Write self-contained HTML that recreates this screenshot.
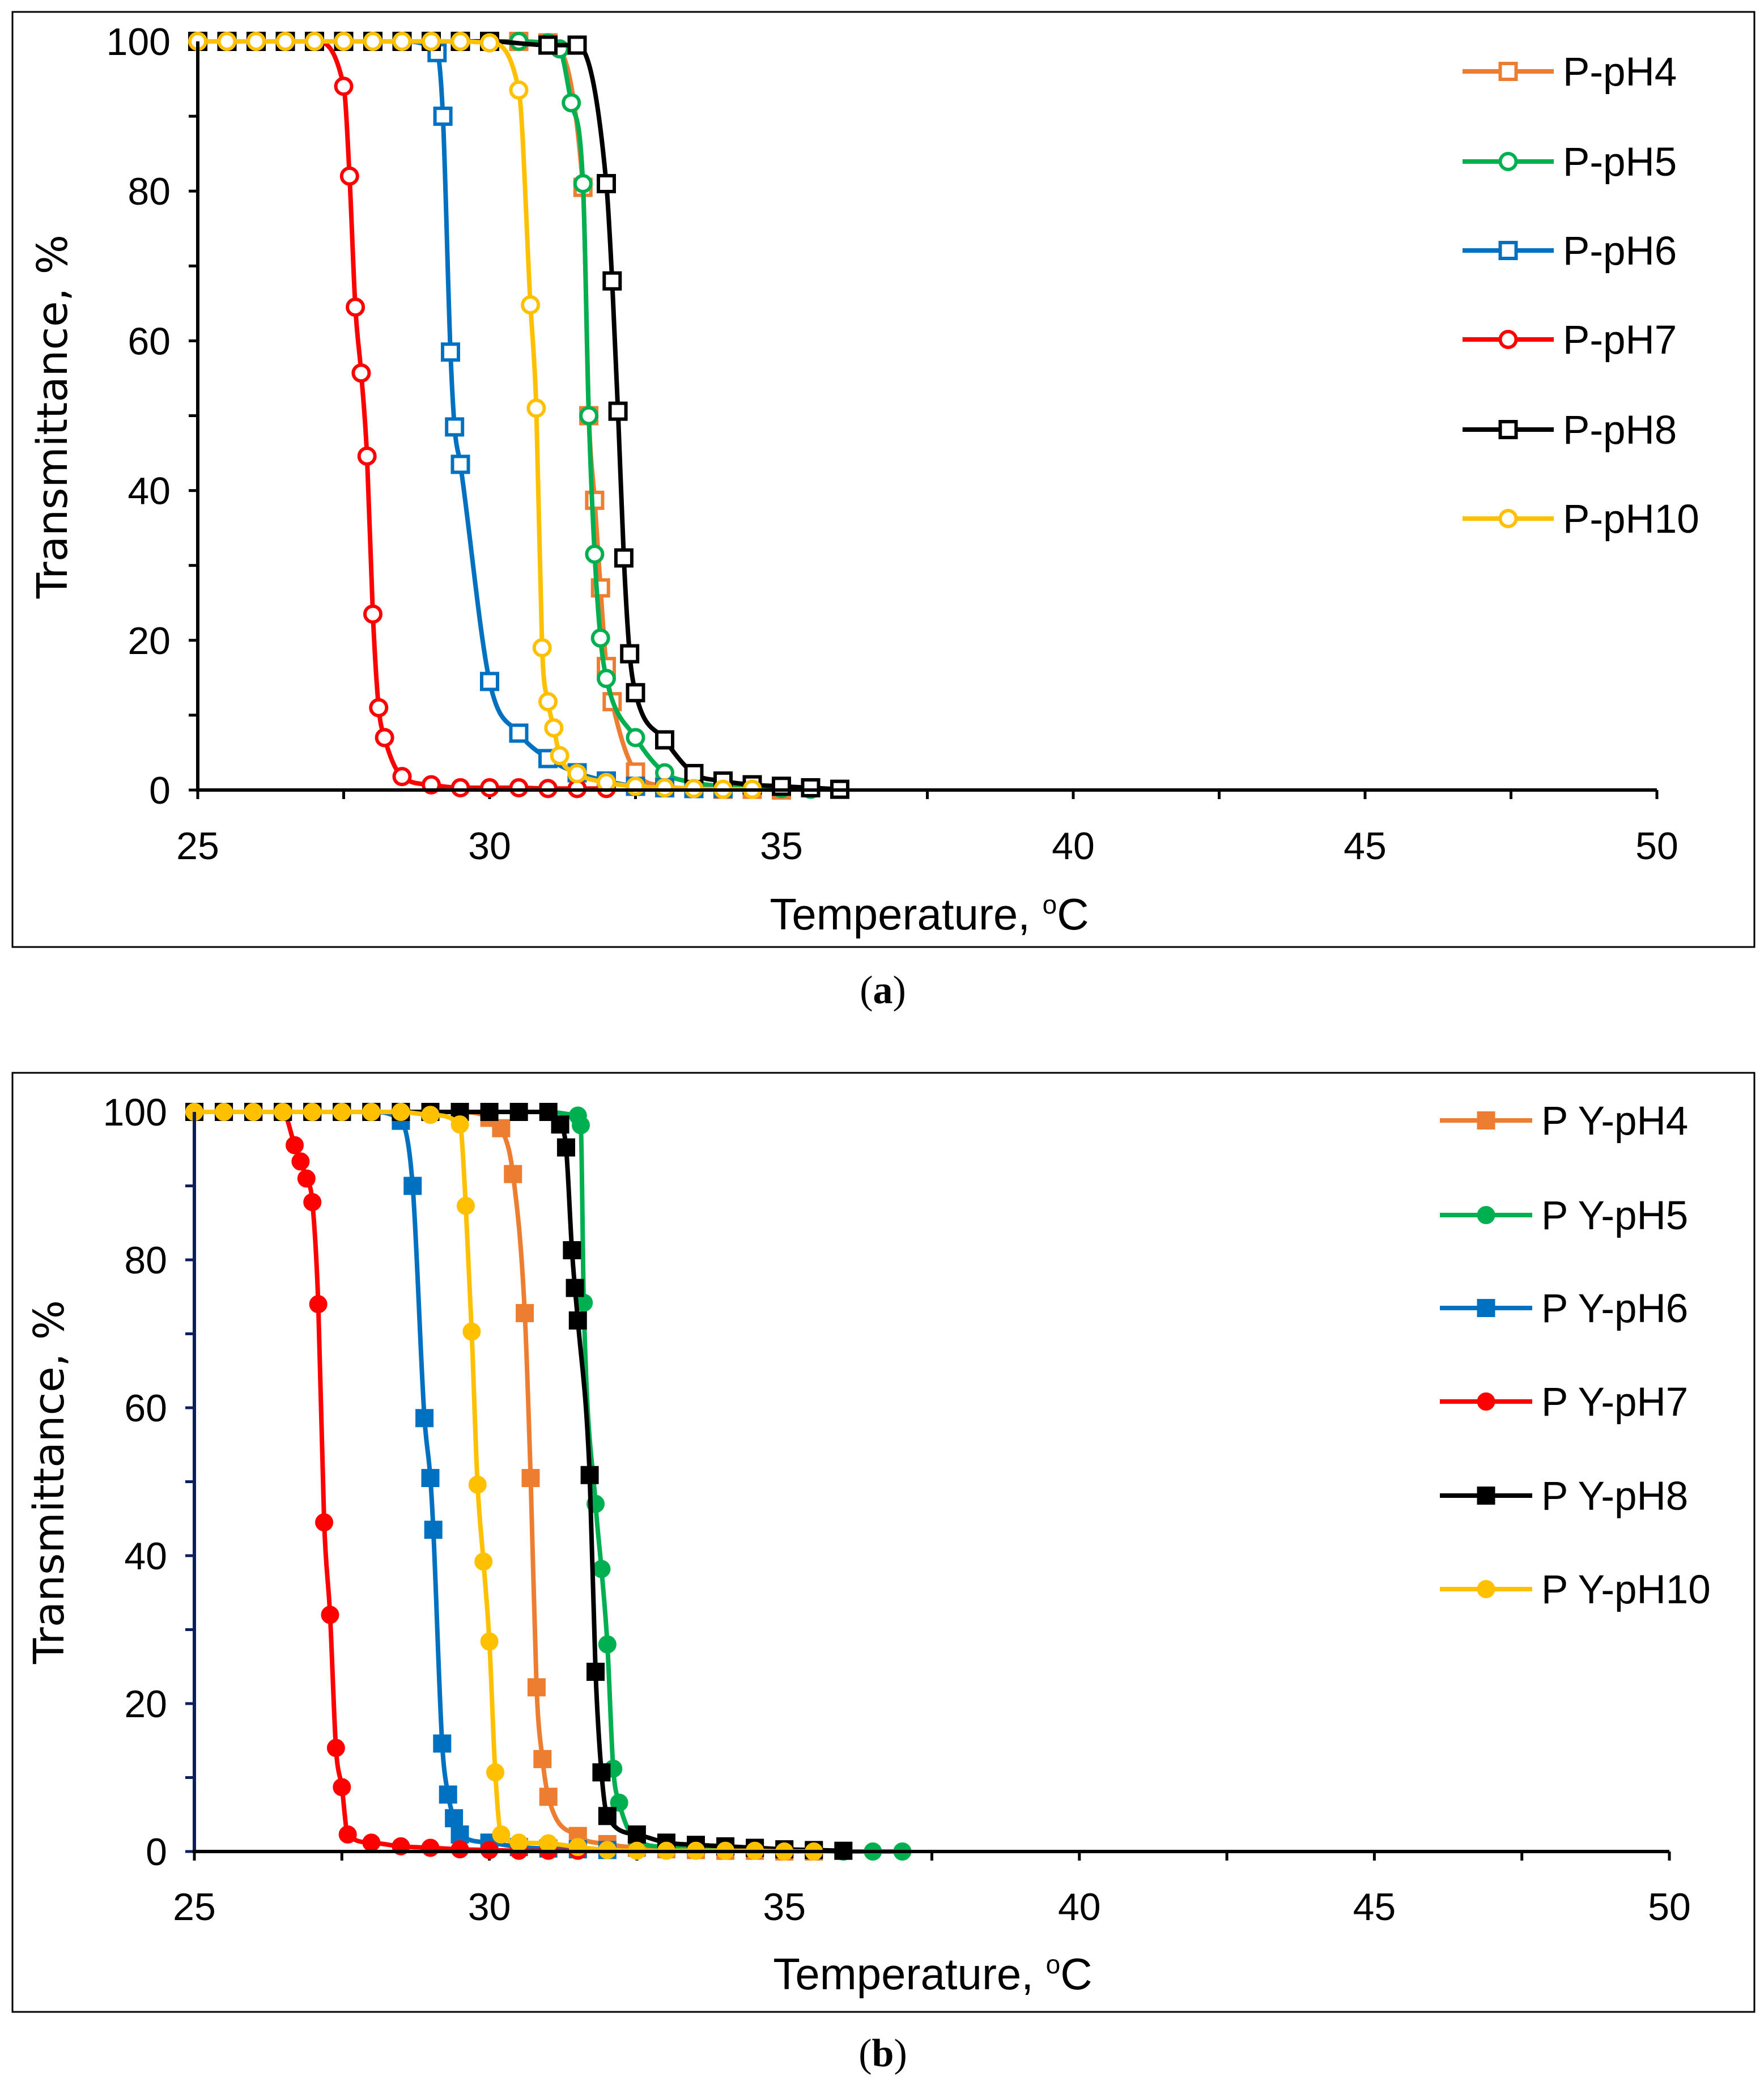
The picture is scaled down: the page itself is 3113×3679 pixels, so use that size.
<!DOCTYPE html>
<html><head><meta charset="utf-8"><style>
html,body{margin:0;padding:0;background:#fff;}
svg{display:block;}
text{font-family:"Liberation Sans",sans-serif;}
</style></head><body>
<svg id="fig" width="3113" height="3679" viewBox="0 0 3113 3679" xmlns="http://www.w3.org/2000/svg">
<rect x="0" y="0" width="3113" height="3679" fill="#fff"/>
<rect x="22" y="21" width="3074" height="1650" fill="none" stroke="#000" stroke-width="3"/>
<rect x="22" y="1893" width="3074" height="1657" fill="none" stroke="#000" stroke-width="3"/>
<text x="1558" y="1770" font-size="70" text-anchor="middle" style="font-family:'Liberation Serif',serif">(<tspan font-weight="bold">a</tspan>)</text>
<text x="1558" y="3646" font-size="70" text-anchor="middle" style="font-family:'Liberation Serif',serif">(<tspan font-weight="bold">b</tspan>)</text>
<g id="pa"></g>
<g id="pb"></g>
</svg>
<script>
// ---- Panel (a) data ----
const xTicks = [25, 30, 35, 40, 45, 50];
const yTicks = [0, 20, 40, 60, 80, 100];
const aNames = ["P-pH4","P-pH5","P-pH6","P-pH7","P-pH8","P-pH10"];
const aPH4T = [25,25.5,26,26.5,27,27.5,28,28.5,29,29.5,30,30.5,31,31.6,31.7,31.8,31.9,32.0,32.1,32.5,33,33.5,34,34.5,35];
const aPH4V = [100,100,100,100,100,100,100,100,100,100,100,100,99.8,80.5,50,38.7,27,16.5,11.8,2.4,0.5,0.2,0.1,0.1,0];
const aPH5T = [25,25.5,26,26.5,27,27.5,28,28.5,29,29.5,30,30.5,31,31.2,31.4,31.6,31.7,31.8,31.9,32,32.5,33,33.5,34,34.5,35,35.5];
const aPH5V = [100,100,100,100,100,100,100,100,100,100,100,100,99.8,99,91.8,81,50,31.5,20.3,14.9,7,2.3,1,0.5,0.3,0.2,0.1];
const aPH6T = [25,25.5,26,26.5,27,27.5,28,28.5,29.1,29.2,29.33,29.4,29.5,30,30.5,31,31.5,32,32.5,33,33.5,34];
const aPH6V = [100,100,100,100,100,100,100,100,98.5,90,58.5,48.5,43.5,14.5,7.6,4.2,2.3,1.2,0.5,0.3,0.2,0.2];
const aPH7T = [25,25.5,26,26.5,27,27.5,27.6,27.7,27.8,27.9,28,28.1,28.2,28.5,29,29.5,30,30.5,31,31.5,32];
const aPH7V = [100,100,100,100,100,94,82,64.5,55.7,44.6,23.5,11,7,1.8,0.7,0.3,0.3,0.3,0.2,0.2,0.2];
const aPH8T = [25,25.5,26,26.5,27,27.5,28,28.5,29,29.5,30,31,31.5,32,32.1,32.2,32.3,32.4,32.5,33,33.5,34,34.5,35,35.5,36];
const aPH8V = [100,100,100,100,100,100,100,100,100,100,100,99.5,99.5,81,68,50.6,31,18.2,13,6.7,2.2,1.2,0.7,0.5,0.3,0.1];
const aPH10T = [25,25.5,26,26.5,27,27.5,28,28.5,29,29.5,30,30.5,30.7,30.8,30.9,31,31.1,31.2,31.5,32,32.5,33,33.5,34,34.5];
const aPH10V = [100,100,100,100,100,100,100,100,100,100,99.8,93.5,64.8,51,19,11.8,8.3,4.6,2.2,1,0.5,0.3,0.2,0.1,0.1];
// ---- Panel (b) data ----
const bNames = ["P Y-pH4","P Y-pH5","P Y-pH6","P Y-pH7","P Y-pH8","P Y-pH10"];
const bPH4T = [25,25.5,26,26.5,27,27.5,28,28.5,29,29.5,30,30.2,30.4,30.6,30.7,30.8,30.9,31,31.5,32,32.5,33,33.5,34,34.5,35,35.5];
const bPH4V = [100,100,100,100,100,100,100,100,100,100,99.2,97.8,91.6,72.8,50.5,22.2,12.5,7.4,2.1,1,0.5,0.3,0.2,0.1,0.1,0,0];
const bPH5T = [25,25.5,26,26.5,27,27.5,28,28.5,29,29.5,30,30.5,31,31.5,31.55,31.6,31.8,31.9,32,32.1,32.2,32.5,33,33.5,34,34.5,35,35.5,36,36.5,37];
const bPH5V = [100,100,100,100,100,100,100,100,100,100,100,100,100,99.5,98.2,74.2,47,38.2,28,11.2,6.6,1.5,0.6,0.4,0.3,0.2,0.1,0.1,0,0,0];
const bPH6T = [25,25.5,26,26.5,27,27.5,28,28.5,28.7,28.9,29,29.05,29.2,29.3,29.4,29.5,30,30.5,31,31.5,32];
const bPH6V = [100,100,100,100,100,100,100,98.8,90,58.6,50.5,43.5,14.6,7.7,4.5,2.3,1.2,0.6,0.4,0.3,0.2];
const bPH7T = [25,25.5,26,26.5,26.7,26.8,26.9,27,27.1,27.2,27.3,27.4,27.5,27.6,28,28.5,29,29.5,30,30.5,31,31.5];
const bPH7V = [100,100,100,100,95.5,93.3,91,87.8,74,44.5,32,14,8.7,2.3,1.2,0.7,0.5,0.3,0.2,0.1,0.1,0.1];
const bPH8T = [25,25.5,26,26.5,27,27.5,28,28.5,29,29.5,30,30.5,31,31.2,31.3,31.4,31.45,31.5,31.7,31.8,31.9,32,32.5,33,33.5,34,34.5,35,35.5,36];
const bPH8V = [100,100,100,100,100,100,100,100,100,100,100,100,100,98.3,95.2,81.3,76.2,71.8,50.9,24.3,10.7,4.8,2.3,1.2,0.9,0.7,0.5,0.3,0.2,0.1];
const bPH10T = [25,25.5,26,26.5,27,27.5,28,28.5,29,29.5,29.6,29.7,29.8,29.9,30,30.1,30.2,30.5,31,31.5,32,32.5,33,33.5,34,34.5,35,35.5];
const bPH10V = [100,100,100,100,100,100,100,100,99.6,98.3,87.3,70.3,49.6,39.2,28.4,10.7,2.3,1.2,1.1,0.6,0.2,0.1,0.1,0.1,0.1,0.1,0,0];

const colors = ["#ED7D31","#00B050","#0070C0","#FF0000","#000000","#FFC000"];
const shapes = ["square","circle","square","circle","square","circle"];
const NS = "http://www.w3.org/2000/svg";

function el(tag, attrs, parent){
  const e = document.createElementNS(NS, tag);
  for (const k in attrs) e.setAttribute(k, attrs[k]);
  parent.appendChild(e);
  return e;
}
function monoPath(px, py){
  const n = px.length;
  if (n < 2) return "";
  const d = [], m = [];
  for (let i=0;i<n-1;i++) d.push((py[i+1]-py[i])/(px[i+1]-px[i]));
  m.push(d[0]);
  for (let i=1;i<n-1;i++) m.push(d[i-1]*d[i] <= 0 ? 0 : (d[i-1]+d[i])/2);
  m.push(d[n-2]);
  for (let i=0;i<n-1;i++){
    if (d[i] === 0){ m[i]=0; m[i+1]=0; continue; }
    const a = m[i]/d[i], b = m[i+1]/d[i], s = a*a+b*b;
    if (s > 9){ const t = 3/Math.sqrt(s); m[i]=t*a*d[i]; m[i+1]=t*b*d[i]; }
  }
  let p = "M" + px[0] + "," + py[0];
  for (let i=0;i<n-1;i++){
    const h = (px[i+1]-px[i])/3;
    p += " C" + (px[i]+h) + "," + (py[i]+m[i]*h) + " " + (px[i+1]-h) + "," + (py[i+1]-m[i+1]*h) + " " + px[i+1] + "," + py[i+1];
  }
  return p;
}
function marker(g, shape, x, y, color, filled, r){
  let e;
  if (shape === "square"){
    e = el("rect", {x:x-r, y:y-r, width:2*r, height:2*r, fill: filled?color:"#fff", stroke:color, "stroke-width": filled?2:6}, g);
  } else {
    e = el("circle", {cx:x, cy:y, r:r, fill: filled?color:"#fff", stroke:color, "stroke-width": filled?2:6}, g);
  }
  
  
}

function drawPanel(gid, cfg){
  const g = document.getElementById(gid);
  const sx = v => cfg.x0 + (v-25)/(50-25)*(cfg.x1-cfg.x0);
  const sy = v => cfg.y0 + (v-0)/(100-0)*(cfg.y1-cfg.y0);
  const ax = el("g", {}, g);
  
  
  for (let v=0; v<=100; v+=10){
    const t = el("line", {x1:sx(25)-16, x2:sx(25), y1:sy(v), y2:sy(v), stroke:cfg.yAxisColor, "stroke-width":5}, ax);
    
    
  }
  for (let v=25; v<=50; v+=2.5){
    const t = el("line", {x1:sx(v), x2:sx(v), y1:sy(0), y2:sy(0)+16, stroke:"#000", "stroke-width":5}, ax);
    
    
  }
  yTicks.forEach(v=>{
    const t = el("text", {x:sx(25)-48, y:sy(v)+24, "font-size":68, "text-anchor":"end", fill:"#000"}, ax);
    t.textContent = v;
    
    
  });
  xTicks.forEach(v=>{
    const t = el("text", {x:sx(v), y:cfg.xlabY, "font-size":68, "text-anchor":"middle", fill:"#000"}, ax);
    t.textContent = v;
    
    
  });
  const xt = el("text", {x:cfg.xtX, y:cfg.xtY, "font-size":78, "text-anchor":"middle", fill:"#000"}, ax);
  xt.innerHTML = 'Temperature, <tspan font-size="46" dy="-28">o</tspan><tspan dy="28">C</tspan>';
  
  
  const yt = el("text", {x:0, y:0, "font-size":74, "text-anchor":"middle", fill:"#000", transform:"translate("+cfg.ytX+","+cfg.ytY+") rotate(-90)", style:"font-family:'DejaVu Sans',sans-serif"}, ax);
  yt.textContent = "Transmittance, %";
  
  
  cfg.series.forEach((s, i)=>{
    const sg = el("g", {}, g);
    
    
    const px = s[0].map(sx), py = s[1].map(sy);
    const line = el("path", {d:monoPath(px,py), fill:"none", stroke:colors[i], "stroke-width":8, "stroke-linejoin":"round"}, sg);
    
    
    for (let k=0;k<px.length;k++) marker(sg, shapes[i], px[k], py[k], colors[i], cfg.filled, cfg.filled?15:14);
  });
  const yl = el("line", {x1:sx(25), x2:sx(25), y1:sy(100), y2:sy(0)+3, stroke:cfg.yAxisColor, "stroke-width":6}, g);
  
  
  const xl = el("line", {x1:sx(25)-3, x2:sx(50), y1:sy(0), y2:sy(0), stroke:"#000", "stroke-width":6}, g);
  
  
  const lg = el("g", {}, g);
  
  
  cfg.names.forEach((n, i)=>{
    const y = cfg.legY[i];
    const eg = el("g", {}, lg);
    
    
    el("line", {x1:cfg.legX0, x2:cfg.legX1, y1:y, y2:y, stroke:colors[i], "stroke-width":8}, eg);
    marker(eg, shapes[i], (cfg.legX0+cfg.legX1)/2, y, colors[i], cfg.filled, cfg.filled?15:14);
    const t = el("text", {x:cfg.legX1+16, y:y+25, "font-size":71, fill:"#000"}, eg);
    t.textContent = n;
  });
}

drawPanel("pa", {x0:349, x1:2924, y0:1394, y1:73, xlabY:1516, xtX:1640, xtY:1640, ytX:118, ytY:735,
  yAxisColor:"#000", filled:false, names:aNames,
  legX0:2581, legX1:2742, legY:[126,285,442,599,758,915],
  series:[[aPH4T,aPH4V],[aPH5T,aPH5V],[aPH6T,aPH6V],[aPH7T,aPH7V],[aPH8T,aPH8V],[aPH10T,aPH10V]]});
drawPanel("pb", {x0:343, x1:2946, y0:3267, y1:1962, xlabY:3388, xtX:1646, xtY:3510, ytX:112, ytY:2615,
  yAxisColor:"#0B1F5C", filled:true, names:bNames,
  legX0:2541, legX1:2704, legY:[1977,2144,2308,2473,2639,2804],
  series:[[bPH4T,bPH4V],[bPH5T,bPH5V],[bPH6T,bPH6V],[bPH7T,bPH7V],[bPH8T,bPH8V],[bPH10T,bPH10V]]});
</script>
</body></html>
